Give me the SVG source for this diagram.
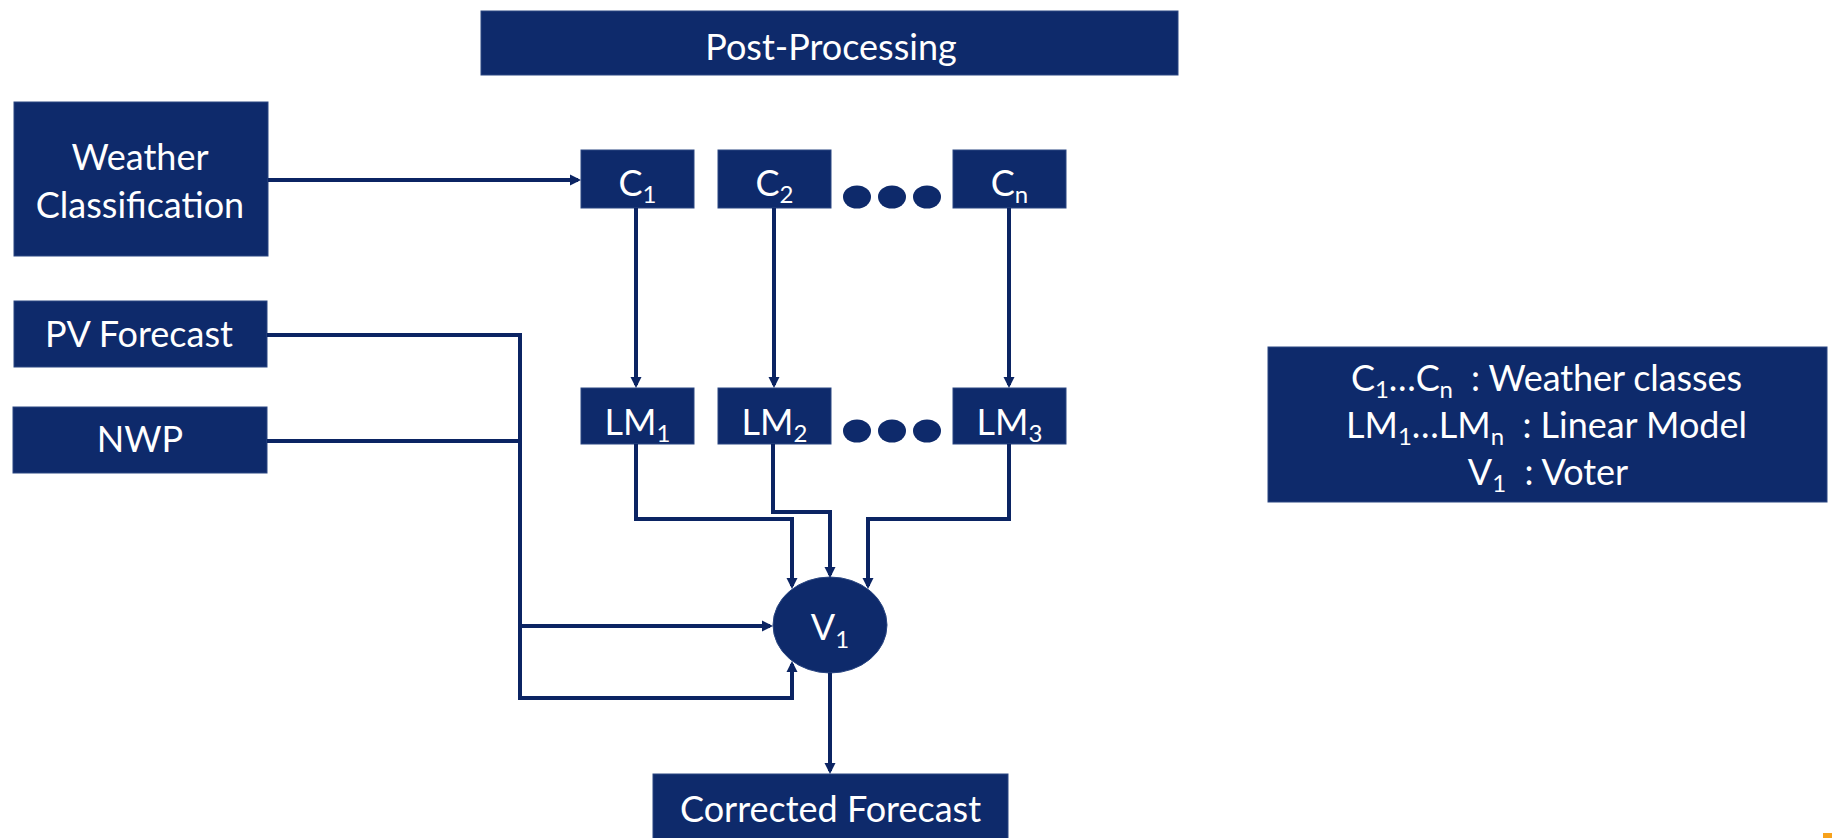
<svg xmlns="http://www.w3.org/2000/svg" width="1832" height="838" viewBox="0 0 1832 838">
<style>
.box{fill:#0E2A6B;stroke:#2a4682;stroke-width:1}
.t{font-family:Lato,"Open Sans","Liberation Sans",sans-serif;font-size:36px;fill:#ffffff;text-anchor:middle}
.s{font-size:24px}
.c{fill:none;stroke:#0B2463;stroke-width:4;stroke-linejoin:miter}
</style>
<defs>
<marker id="ah" viewBox="0 0 10 10" refX="7.3" refY="5" markerWidth="11" markerHeight="12" markerUnits="userSpaceOnUse" orient="auto">
<path d="M0,0 L10,5 L0,10 z" fill="#0B2463"/>
</marker>
</defs>
<rect width="1832" height="838" fill="#ffffff"/>

<g id="post-processing">
<rect class="box" x="481" y="11" width="697" height="64"/>
<text class="t" x="831" y="60">Post-Processing</text>
</g>

<g id="weather-classification">
<rect class="box" x="14" y="102" width="254" height="154"/>
<text class="t" x="140" y="170">Weather</text>
<text class="t" x="140" y="218">Classification</text>
</g>

<g id="pv-forecast">
<rect class="box" x="14" y="301" width="253" height="66"/>
<text class="t" x="139" y="347">PV Forecast</text>
</g>

<g id="nwp">
<rect class="box" x="13" y="407" width="254" height="66"/>
<text class="t" x="140" y="452">NWP</text>
</g>

<g id="c1">
<rect class="box" x="581" y="150" width="113" height="58"/>
<text class="t" x="637.5" y="196">C<tspan class="s" dy="7">1</tspan></text>
</g>
<g id="c2">
<rect class="box" x="718" y="150" width="113" height="58"/>
<text class="t" x="774.5" y="196">C<tspan class="s" dy="7">2</tspan></text>
</g>
<g id="cn">
<rect class="box" x="953" y="150" width="113" height="58"/>
<text class="t" x="1009.5" y="196">C<tspan class="s" dy="7">n</tspan></text>
</g>
<g id="c-dots" fill="#0E2A6B">
<ellipse cx="857" cy="197" rx="14" ry="11.5"/>
<ellipse cx="892" cy="197" rx="14" ry="11.5"/>
<ellipse cx="927" cy="197" rx="14" ry="11.5"/>
</g>

<g id="lm1">
<rect class="box" x="581" y="388" width="113" height="56"/>
<text class="t" x="637.5" y="435">LM<tspan class="s" dy="7">1</tspan></text>
</g>
<g id="lm2">
<rect class="box" x="718" y="388" width="113" height="56"/>
<text class="t" x="774.5" y="435">LM<tspan class="s" dy="7">2</tspan></text>
</g>
<g id="lm3">
<rect class="box" x="953" y="388" width="113" height="56"/>
<text class="t" x="1009.5" y="435">LM<tspan class="s" dy="7">3</tspan></text>
</g>
<g id="lm-dots" fill="#0E2A6B">
<ellipse cx="857" cy="431" rx="14" ry="11.5"/>
<ellipse cx="892" cy="431" rx="14" ry="11.5"/>
<ellipse cx="927" cy="431" rx="14" ry="11.5"/>
</g>

<g id="v1">
<ellipse cx="830" cy="625" rx="57" ry="48" fill="#0E2A6B" stroke="#2a4682" stroke-width="1"/>
<text class="t" x="830" y="640">V<tspan class="s" dy="8">1</tspan></text>
</g>

<g id="corrected-forecast">
<rect class="box" x="653" y="774" width="355" height="70"/>
<text class="t" x="830.5" y="822">Corrected Forecast</text>
</g>

<g id="legend">
<rect class="box" x="1268" y="347" width="559" height="155"/>
<text class="t" x="1546.5" y="391" textLength="391">C<tspan class="s" dy="7">1</tspan><tspan dy="-7">…C</tspan><tspan class="s" dy="7">n</tspan><tspan dy="-7">&#160; : Weather classes</tspan></text>
<text class="t" x="1546.5" y="438" textLength="401">LM<tspan class="s" dy="7">1</tspan><tspan dy="-7">…LM</tspan><tspan class="s" dy="7">n</tspan><tspan dy="-7">&#160; : Linear Model</tspan></text>
<text class="t" x="1548" y="485">V<tspan class="s" dy="7">1</tspan><tspan dy="-7">&#160; : Voter</tspan></text>
</g>

<rect id="corner-mark" x="1823" y="833" width="9" height="5" fill="#F7A21B"/>

<g id="connectors">
<path class="c" d="M268,180 H578" marker-end="url(#ah)"/>
<path class="c" d="M636,208 V385" marker-end="url(#ah)"/>
<path class="c" d="M774,208 V385" marker-end="url(#ah)"/>
<path class="c" d="M1009,208 V385" marker-end="url(#ah)"/>
<path class="c" d="M636,444 V519 H792 V586" marker-end="url(#ah)"/>
<path class="c" d="M773,444 V512 H830 V575" marker-end="url(#ah)"/>
<path class="c" d="M1009,444 V519 H868 V586" marker-end="url(#ah)"/>
<path class="c" d="M267,335 H520 V626 H770" marker-end="url(#ah)"/>
<path class="c" d="M267,441 H520 V698 H792 V664" marker-end="url(#ah)"/>
<path class="c" d="M830,673 V771" marker-end="url(#ah)"/>
</g>
</svg>
